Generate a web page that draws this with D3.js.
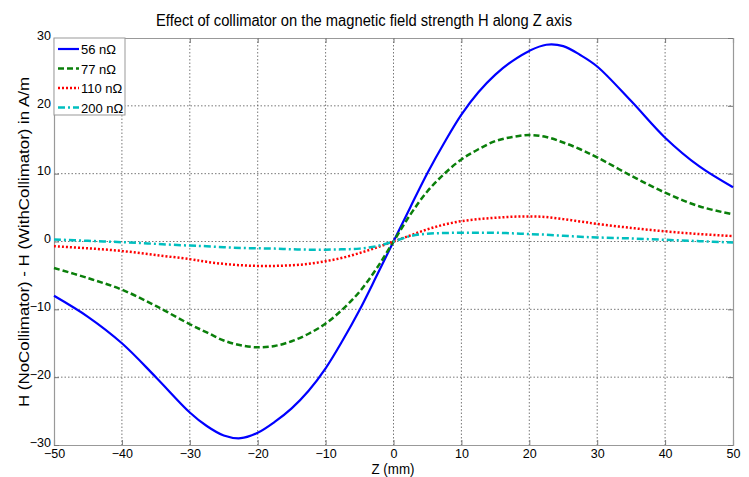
<!DOCTYPE html>
<html>
<head>
<meta charset="utf-8">
<script src="https://cdn.jsdelivr.net/npm/d3@7"></script>
<style>
  body { margin: 0; background: #fff; }
  text { font-family: "Liberation Sans", Arial, sans-serif; fill: #000; }
</style>
</head>
<body>
<div id="chart"></div>
<script>
// z positions (mm)
var zPos = [-50, -45, -40, -35, -30, -27.5, -25, -22.5, -20, -17.5, -15, -12.5, -10, -7.5, -5, -2.5, 0,
            2.5, 5, 7.5, 10, 12.5, 15, 17.5, 20, 22.5, 25, 27.5, 30, 35, 40, 45, 50];

// H(NoCollimator) - H(WithCollimator), A/m
var h56  = [-8.0, -11.1, -15.0, -20.0, -25.2, -27.2, -28.6, -29.0, -28.2, -26.6, -24.6, -22.0, -18.7, -14.6, -10.1, -5.1, 0,
            5.1, 10.1, 14.6, 18.7, 22.0, 24.6, 26.6, 28.1, 29.0, 28.8, 27.5, 25.8, 20.7, 15.3, 11.1, 8.0];
var h77  = [-3.9, -5.4, -7.1, -9.5, -12.2, -13.4, -14.6, -15.3, -15.6, -15.4, -14.7, -13.6, -12.1, -10.0, -7.4, -4.0, 0,
            4.0, 7.4, 10.0, 12.1, 13.6, 14.8, 15.4, 15.7, 15.4, 14.6, 13.6, 12.4, 9.7, 7.2, 5.2, 4.0];
var h110 = [-0.7, -1.0, -1.4, -2.0, -2.6, -3.0, -3.3, -3.5, -3.6, -3.6, -3.5, -3.3, -2.9, -2.4, -1.7, -0.9, 0,
            0.9, 1.8, 2.5, 3.0, 3.3, 3.5, 3.65, 3.7, 3.6, 3.3, 2.95, 2.6, 2.0, 1.5, 1.1, 0.8];
var h200 = [0.3, 0.1, -0.1, -0.35, -0.6, -0.7, -0.85, -0.95, -1.0, -1.05, -1.15, -1.2, -1.2, -1.15, -1.05, -0.7, 0,
            0.8, 1.15, 1.25, 1.3, 1.3, 1.3, 1.2, 1.1, 1.0, 0.85, 0.7, 0.6, 0.45, 0.25, 0.05, -0.15];

var seriesNames = ["56 n\u03a9", "77 n\u03a9", "110 n\u03a9", "200 n\u03a9"];
var seriesValues = [h56, h77, h110, h200];
var xTicks = [-50, -40, -30, -20, -10, 0, 10, 20, 30, 40, 50];
var yTicks = [-30, -20, -10, 0, 10, 20, 30];

var styles = [
  {color: "#0000ff", width: 2.2, dash: null},
  {color: "#0a7f0a", width: 2.5, dash: "6,3"},
  {color: "#ff0000", width: 2.5, dash: "2,2"},
  {color: "#00bfbf", width: 2.5, dash: "7,3,2,3"}
];

var W = 749, H = 477;
var margin = {top: 38, right: 16, bottom: 32, left: 54};
var width = W - margin.left - margin.right,
    height = H - margin.top - margin.bottom;

var svg = d3.select("#chart").append("svg")
    .attr("width", W)
    .attr("height", H);

var g = svg.append("g")
    .attr("transform", "translate(" + margin.left + "," + margin.top + ")");

var x = d3.scaleLinear().domain([-50, 50]).range([0, width]);
var y = d3.scaleLinear().domain([-30, 30]).range([height, 0]);

// grid
g.append("g").selectAll("line")
    .data(xTicks.slice(1, -1))
    .enter().append("line")
    .attr("x1", function (d) { return x(d); })
    .attr("x2", function (d) { return x(d); })
    .attr("y1", 0).attr("y2", height)
    .style("stroke", "#555").style("stroke-width", 0.8)
    .style("stroke-dasharray", "1.5,2");
g.append("g").selectAll("line")
    .data(yTicks.slice(1, -1))
    .enter().append("line")
    .attr("y1", function (d) { return y(d); })
    .attr("y2", function (d) { return y(d); })
    .attr("x1", 0).attr("x2", width)
    .style("stroke", "#555").style("stroke-width", 0.8)
    .style("stroke-dasharray", "1.5,2");

// axes (matlab style inward ticks)
var xAxis = d3.axisBottom(x).tickValues(xTicks).tickSize(-5).tickPadding(6);
var yAxis = d3.axisLeft(y).tickValues(yTicks).tickSize(-5).tickPadding(3);
var gx = g.append("g").attr("transform", "translate(0," + height + ")").call(xAxis);
var gy = g.append("g").call(yAxis);
g.append("g").call(d3.axisTop(x).tickValues(xTicks).tickSize(-5).tickFormat(""));
g.append("g").attr("transform", "translate(" + width + ",0)")
    .call(d3.axisRight(y).tickValues(yTicks).tickSize(-5).tickFormat(""));

g.selectAll(".domain").style("stroke", "#999").style("stroke-width", 1.2);
g.selectAll(".tick line").style("stroke", "#777");
gx.selectAll("text").style("font-size", "12.5px").attr("dy", "0.55em");
gy.selectAll("text").style("font-size", "12.5px").attr("dy", "0.1em");

// lines
var line = d3.line()
    .x(function (d) { return x(d[0]); })
    .y(function (d) { return y(d[1]); })
    .curve(d3.curveCatmullRom.alpha(0.5));

seriesValues.forEach(function (vals, i) {
  var pts = zPos.map(function (z, j) { return [z, vals[j]]; });
  g.append("path")
      .datum(pts)
      .attr("d", line)
      .style("fill", "none")
      .style("stroke", styles[i].color)
      .style("stroke-width", styles[i].width)
      .style("stroke-dasharray", styles[i].dash);
});

// legend
var lg = g.append("g");
lg.append("rect")
    .attr("x", 0).attr("y", 0)
    .attr("width", 71).attr("height", 77)
    .style("fill", "#fff").style("stroke", "#999").style("stroke-width", 1);
seriesNames.forEach(function (name, i) {
  var yy = 11 + i * 19.5;
  lg.append("line")
      .attr("x1", 4).attr("x2", 25)
      .attr("y1", yy).attr("y2", yy)
      .style("stroke", styles[i].color)
      .style("stroke-width", styles[i].width)
      .style("stroke-dasharray", styles[i].dash);
  lg.append("text")
      .attr("x", 27).attr("y", yy + 5)
      .style("font-size", "13px")
      .text(name);
});

// title and axis labels
svg.append("text")
    .attr("x", 364).attr("y", 26)
    .attr("text-anchor", "middle")
    .style("font-size", "16px")
    .attr("textLength", 416).attr("lengthAdjust", "spacingAndGlyphs")
    .text("Effect of collimator on the magnetic field strength H along Z axis");

svg.append("text")
    .attr("x", 393).attr("y", 474)
    .attr("text-anchor", "middle")
    .style("font-size", "15px")
    .attr("textLength", 43).attr("lengthAdjust", "spacingAndGlyphs")
    .text("Z (mm)");

svg.append("text")
    .attr("transform", "translate(29,242) rotate(-90)")
    .attr("text-anchor", "middle")
    .style("font-size", "15px")
    .attr("textLength", 330).attr("lengthAdjust", "spacingAndGlyphs")
    .text("H (NoCollimator) - H (WithCollimator) in A/m");
</script>
</body>
</html>
